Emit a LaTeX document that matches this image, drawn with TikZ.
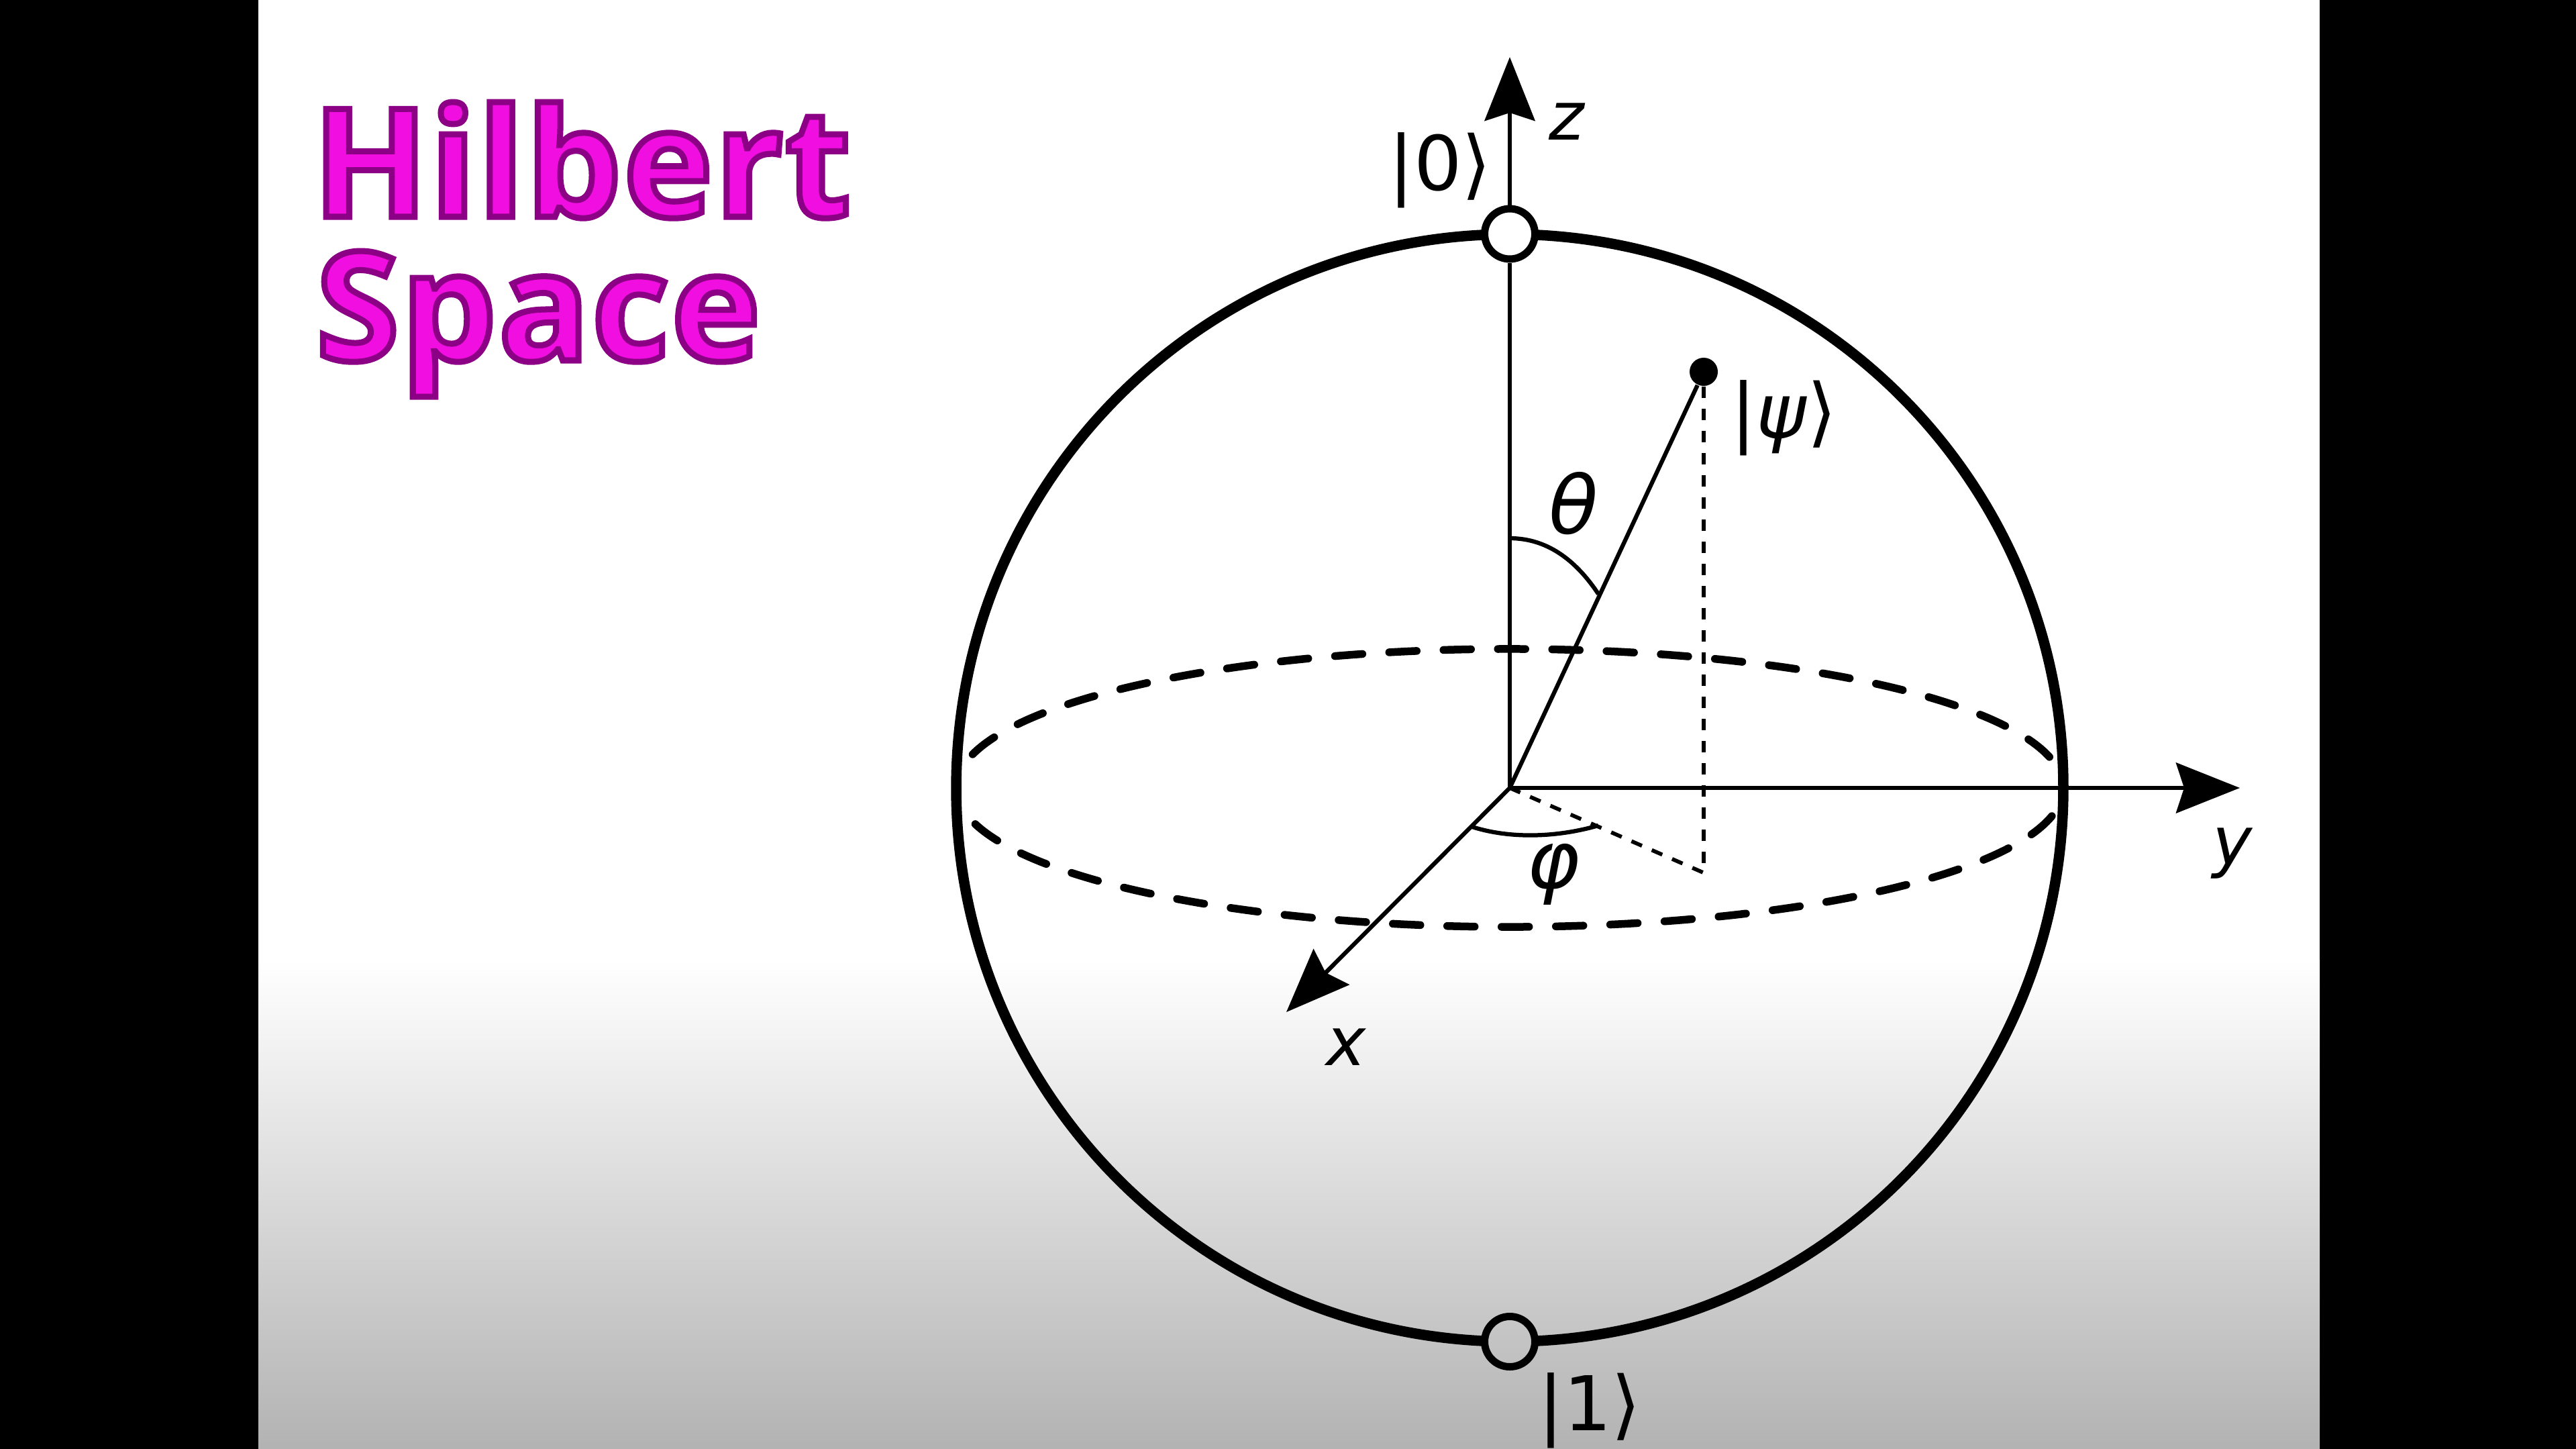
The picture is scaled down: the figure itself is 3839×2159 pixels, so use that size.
\documentclass[tikz,border=0pt]{standalone}
\usepackage{fontspec}
\setmainfont{DejaVu Sans}
\newfontfamily\titlefont[FakeBold=4,LetterSpace=1.3]{Open Sans Bold}
\usetikzlibrary{arrows.meta}
\tikzset{
  axisline/.style={line width=1.25pt,-{Stealth[length=19pt,width=15pt,inset=2.4pt]}},
  thinline/.style={line width=1.25pt},
  dotted short/.style={line width=1.15pt,dash pattern=on 3.4pt off 3.2pt},
  sphere line/.style={line width=3.1pt},
  equator/.style={line width=2.3pt,line cap=round,dash pattern=on 8.2pt off 8pt},
  ket/.style={inner sep=0pt,font=\fontsize{22.5}{22.5}\selectfont},
  angle label/.style={inner sep=0pt,font=\fontsize{24}{24}\selectfont\itshape},
  axis label/.style={inner sep=0pt,font=\fontsize{20}{20}\selectfont\itshape},
  pole/.style={circle,draw,line width=2.2pt,minimum size=15pt,inner sep=0pt},
  title text/.style={inner sep=0pt,anchor=base west,font=\fontsize{45}{45}\selectfont\titlefont},
}
\newcommand{\titlecolor}{\special{pdf:code 0.55 0 0.52 RG 0.94 0.06 0.88 rg}}
\begin{document}
\begin{tikzpicture}[x=0.2pt,y=-0.2pt]
\useasboundingbox (0,0) rectangle (3839,2159);
% background
\fill[black] (0,0) rectangle (3839,2159);
\fill[white] (385,0) rectangle (3457,1430);
\shade[top color=white,bottom color=black!30] (385,1430) rectangle (3457,2159);
% key points
\coordinate (o) at (2250,1174);
\coordinate (ztip) at (2250,85);
\coordinate (ytip) at (3338,1174);
\coordinate (xtip) at (1917,1508);
\coordinate (foot) at (2538,1300);
\node[pole,fill=white] (top) at (2250,348.5) {};
\node[pole] (bottom) at (2250,1999) {};
\node[circle,fill=black,minimum size=8.4pt,inner sep=0pt] (psi) at (2539,554) {};
% sphere
\draw[sphere line] (o) ++(-87.4:825) arc[start angle=-87.4,end angle=87.4,radius=825];
\draw[sphere line] (o) ++(92.6:825) arc[start angle=92.6,end angle=267.4,radius=825];
% equator
\draw[equator] (o) ++(-166:825 and 207) arc[start angle=-166,end angle=-12,x radius=825,y radius=207];
\draw[equator,dash phase=15.1pt] (o) ++(166:825 and 207) arc[start angle=166,end angle=11,x radius=825,y radius=207];
% axes
\draw[thinline] (o) -- (top.south);
\draw[axisline] (top.north) -- (ztip);
\draw[axisline] (o) -- (ytip);
\draw[axisline] (o) -- (xtip);
% state vector
\draw[thinline] (o) -- (psi);
\draw[dotted short] (psi) -- (2539,1287);
\draw[dotted short] (o) -- (foot);
% angles
\draw[thinline] (2250,802) .. controls (2310,802) and (2352,840) .. (2382,885);
\draw[thinline] (2194,1232) .. controls (2250,1250) and (2320,1248) .. (2382,1230);
% labels
\node[ket] (l0) at (2146,254) {|0⟩};
\node[ket] (l1) at (2369,2102) {|1⟩};
\node[ket] (lpsi) at (2658,623) {|\textit{ψ}⟩};
\node[axis label] (lz) at (2335,181) {z};
\node[axis label] (ly) at (3327,1272) {y};
\node[axis label] (lx) at (2006,1560) {x};
\node[angle label] (ltheta) at (2345,750) {θ};
\node[angle label] (lphi) at (2315,1303) {φ};
% title
\node[title text] (t1) at (465,323) {\titlecolor Hilbert};
\node[title text] (t2) at (470,537) {\titlecolor Space};
\end{tikzpicture}
\end{document}
